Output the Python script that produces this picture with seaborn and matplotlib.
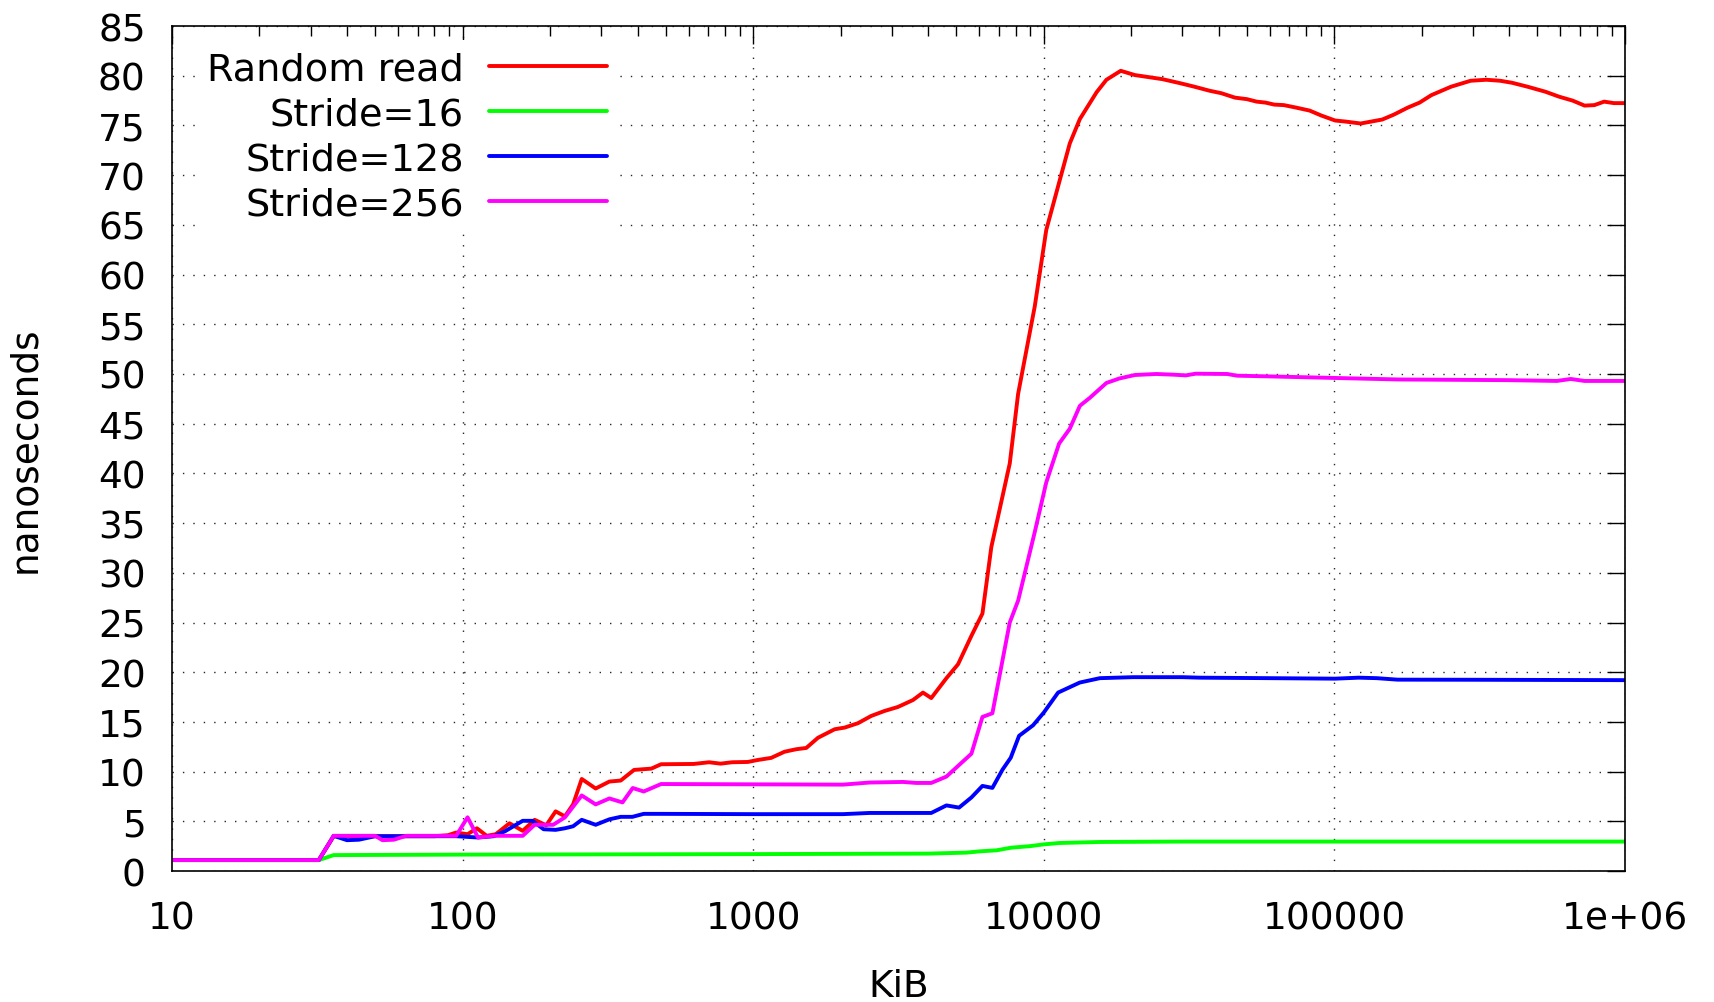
import matplotlib
matplotlib.use("Agg")
import matplotlib.pyplot as plt
import matplotlib.ticker as mticker
import seaborn as sns
import pandas as pd

# ---------------- data ----------------
series_names = ["Random read", "Stride=16", "Stride=128", "Stride=256"]
series_colors = ["#ff0000", "#00ff00", "#0000ff", "#ff00ff"]

rr_x = [10, 32, 36, 40, 44, 50, 56, 64, 72, 80, 89, 95, 104, 112, 121, 130, 145, 161, 177, 194,
        209, 225, 240, 257, 287, 320, 350, 389, 446, 482, 624, 705, 772, 846, 958, 1037, 1153,
        1282, 1406, 1523, 1670, 1907, 2065, 2294, 2548, 2831, 3146, 3547, 3839, 4100, 4624, 5070,
        5636, 6150, 6600, 7637, 8160, 9310, 10200, 11350, 12290, 13310, 15200, 16430, 18400,
        20600, 25600, 29400, 33000, 37150, 40800, 45500, 50000, 54000, 58000, 62100, 67000,
        73800, 82200, 90200, 100600, 108800, 123200, 146200, 160400, 178900, 196400, 215600,
        252000, 294300, 333400, 371800, 408300, 462300, 532000, 593000, 661000, 726000, 785000,
        848000, 916000, 1000000]
rr_y = [1.1, 1.1, 3.5, 3.5, 3.5, 3.5, 3.5, 3.5, 3.5, 3.5, 3.6, 3.87, 3.7, 4.3, 3.54, 3.7, 4.8, 4.04,
        5.15, 4.6, 6.0, 5.5, 6.7, 9.26, 8.3, 9.0, 9.1, 10.17, 10.3, 10.74, 10.77, 10.94, 10.8,
        10.94, 10.97, 11.17, 11.38, 12.0, 12.25, 12.38, 13.4, 14.26, 14.43, 14.87, 15.6, 16.1,
        16.5, 17.2, 17.95, 17.4, 19.4, 20.8, 23.66, 25.9, 32.6, 41.0, 48.0, 56.8, 64.5, 69.5,
        73.2, 75.65, 78.35, 79.6, 80.5, 80.07, 79.66, 79.26, 78.9, 78.5, 78.25, 77.8, 77.65,
        77.4, 77.3, 77.1, 77.05, 76.8, 76.5, 76.0, 75.5, 75.4, 75.2, 75.6, 76.1, 76.8, 77.3,
        78.05, 78.9, 79.5, 79.6, 79.5, 79.3, 78.9, 78.4, 77.9, 77.5, 77.0, 77.05, 77.4, 77.25,
        77.25]

s16_x = [10, 32, 36, 100, 1000, 4000, 5420, 6030, 6870, 7740, 8960, 10000, 11350, 15600, 30000,
         1000000]
s16_y = [1.1, 1.1, 1.6, 1.65, 1.7, 1.75, 1.85, 1.98, 2.08, 2.35, 2.5, 2.68, 2.82, 2.92, 2.96, 2.96]

s128_x = [10, 32, 36, 40, 44, 50, 64, 80, 95, 113, 128, 140, 161, 174, 190, 209, 225, 240, 257,
          287, 320, 350, 384, 420, 482, 1000, 2035, 2512, 4100, 4624, 5110, 5636, 6150, 6655,
          7211, 7697, 8222, 9187, 10000, 11200, 13300, 15600, 20300, 30000, 34400, 60000,
          100600, 121300, 140000, 165000, 300000, 1000000]
s128_y = [1.1, 1.1, 3.54, 3.1, 3.15, 3.5, 3.5, 3.5, 3.5, 3.37, 3.5, 4.0, 5.05, 5.05, 4.2, 4.14,
          4.3, 4.5, 5.15, 4.65, 5.2, 5.45, 5.45, 5.75, 5.75, 5.72, 5.72, 5.84, 5.84, 6.6, 6.38,
          7.4, 8.56, 8.36, 10.2, 11.4, 13.6, 14.66, 15.94, 17.95, 18.96, 19.4, 19.5, 19.5,
          19.45, 19.4, 19.35, 19.45, 19.4, 19.25, 19.24, 19.2]

s256_x = [10, 32, 36, 50, 53, 58, 64, 95, 104, 113, 128, 161, 177, 205, 225, 257, 287, 320, 355,
          385, 420, 482, 1000, 2035, 2512, 3275, 3640, 4100, 4624, 5636, 6150, 6655, 7636, 8160,
          9310, 10200, 11290, 12290, 13310, 14400, 16430, 18200, 20600, 24400, 28000, 30800,
          33300, 42800, 46200, 59300, 100600, 165600, 395000, 583000, 651000, 726000, 1000000]
s256_y = [1.1, 1.1, 3.54, 3.54, 3.1, 3.15, 3.54, 3.54, 5.4, 3.37, 3.54, 3.54, 4.65, 4.65, 5.4,
          7.6, 6.7, 7.3, 6.9, 8.35, 8.0, 8.75, 8.72, 8.69, 8.9, 8.96, 8.86, 8.86, 9.5, 11.8, 15.5,
          15.87, 25.0, 27.2, 34.1, 39.1, 43.0, 44.5, 46.8, 47.6, 49.1, 49.55, 49.9, 50.0, 49.93,
          49.86, 50.03, 50.0, 49.83, 49.76, 49.6, 49.45, 49.38, 49.3, 49.5, 49.3, 49.3]

x_ticks = [10, 100, 1000, 10000, 100000, 1000000]
x_tick_labels = ["10", "100", "1000", "10000", "100000", "1e+06"]
y_ticks = list(range(0, 90, 5))

# ---------------- build long-form table ----------------
frames = []
for name, xs, ys in zip(series_names,
                        [rr_x, s16_x, s128_x, s256_x],
                        [rr_y, s16_y, s128_y, s256_y]):
    frames.append(pd.DataFrame({"KiB": xs, "ns": ys, "series": name}))
df = pd.concat(frames, ignore_index=True)

# ---------------- plot ----------------
sns.set_style("white")
plt.rcParams["font.family"] = ["DejaVu Sans"]
plt.rcParams["text.color"] = "black"
plt.rcParams["axes.labelcolor"] = "black"

FS = 27

fig = plt.figure(figsize=(17.15, 10.03), dpi=100)
ax = fig.add_axes([0.1003, 0.1306, 0.8472, 0.8424])

sns.lineplot(data=df, x="KiB", y="ns", hue="series", hue_order=series_names,
             palette=series_colors, estimator=None, sort=False, linewidth=2.8,
             legend=False, ax=ax)

ax.set_xscale("log")
ax.set_xlim(10, 1e6)
ax.set_ylim(0, 85)
ax.set_xticks(x_ticks)
ax.set_xticklabels(x_tick_labels)
ax.xaxis.set_minor_locator(mticker.LogLocator(base=10, subs=range(2, 10), numticks=20))
ax.xaxis.set_minor_formatter(mticker.NullFormatter())
ax.set_yticks(y_ticks)

ax.tick_params(which="both", direction="in", top=True, right=True, colors="black")
ax.tick_params(which="major", length=13, width=1.0, labelsize=FS)
ax.tick_params(axis="x", which="major", pad=21)
ax.tick_params(axis="y", which="major", pad=19)
ax.tick_params(which="minor", length=7, width=1.0)

for sp in ax.spines.values():
    sp.set_color("black")
    sp.set_linewidth(1.2)

ax.grid(True, which="major", color="black", linestyle=(0, (1, 6.5)), linewidth=1.0, alpha=0.85)
ax.set_axisbelow(True)

ax.set_xlabel("KiB", fontsize=FS, labelpad=23, color="black")
ax.set_ylabel("nanoseconds", fontsize=FS, labelpad=39, color="black")

handles = ax.get_lines()[:4]
leg = ax.legend(handles, series_names, loc="upper right", bbox_to_anchor=(0.3076, 0.984),
                markerfirst=False, fontsize=27.5, frameon=True, fancybox=False,
                edgecolor="none", facecolor="white", framealpha=1.0,
                handlelength=3.1, handletextpad=0.66, labelspacing=0.24,
                borderpad=0.3, borderaxespad=0.0)
leg._legend_box.align = "right"
for t in leg.get_texts():
    t.set_color("black")
for lh in leg.get_lines():
    lh.set_linewidth(2.8)

fig.savefig("out.png", dpi=100)
